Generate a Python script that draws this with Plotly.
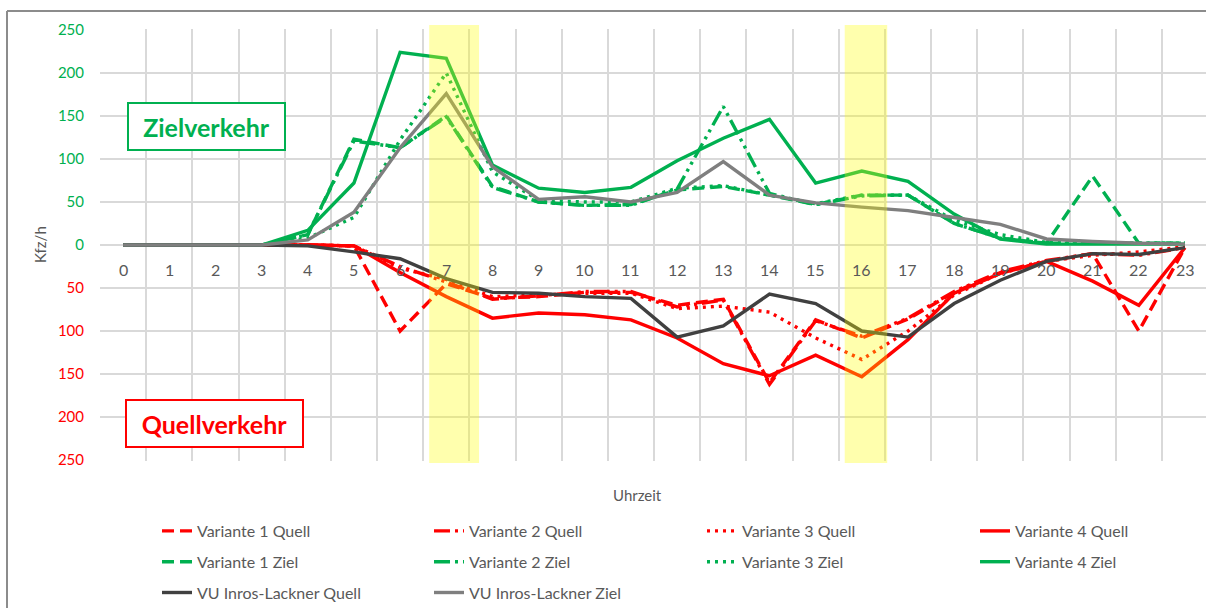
import plotly.graph_objects as go

# Hours of the day (category axis)
hours = list(range(24))
hour_labels = [str(h) for h in hours]

# Ziel (destination) traffic, Kfz/h
v1_ziel = [0, 0, 0, 0, 12, 123, 113, 150, 68, 50, 46, 47, 64, 68, 58, 47, 58, 58, 25, 8, 2, 80, 2, 2]
v2_ziel = [0, 0, 0, 0, 12, 121, 113, 149, 67, 50, 46, 46, 65, 161, 60, 47, 57, 58, 25, 8, 2, 2, 2, 2]
v3_ziel = [0, 0, 0, 0, 8, 32, 122, 200, 85, 52, 50, 50, 66, 69, 58, 48, 58, 58, 29, 12, 3, 2, 2, 2]
v4_ziel = [0, 0, 0, 0, 17, 72, 224, 217, 93, 66, 61, 67, 98, 124, 146, 72, 86, 74, 36, 7, 1, 1, 1, 1]
vu_ziel = [0, 0, 0, 0, 6, 38, 113, 176, 91, 53, 56, 50, 61, 97, 58, 49, 44, 40, 32, 24, 7, 4, 2, 1]

# Quell (origin) traffic, Kfz/h (drawn below the zero line)
v1_quell = [0, 0, 0, 0, 0, 1, 100, 45, 62, 60, 55, 55, 70, 63, 160, 87, 108, 86, 55, 32, 19, 10, 100, 3]
v2_quell = [0, 0, 0, 0, 0, 1, 25, 43, 63, 59, 54, 54, 72, 64, 162, 88, 106, 85, 54, 31, 18, 10, 12, 3]
v3_quell = [0, 0, 0, 0, 0, 1, 27, 40, 60, 58, 56, 56, 74, 71, 78, 108, 133, 100, 58, 33, 19, 12, 8, 2]
v4_quell = [0, 0, 0, 0, 0, 1, 32, 60, 85, 79, 81, 87, 108, 138, 152, 128, 153, 110, 56, 33, 19, 42, 70, 3]
vu_quell = [0, 0, 0, 0, 1, 8, 16, 39, 55, 56, 60, 62, 107, 94, 57, 68, 100, 107, 68, 41, 19, 10, 11, 3]

# Peak hours highlighted
peak_hours = [7, 16]

# y ticks: magnitudes, green above zero, red below
y_ticks = [-250, -200, -150, -100, -50, 0, 50, 100, 150, 200, 250]

RED = "#ff0000"
GREEN = "#00b050"
DARK = "#404040"
GREY = "#7f7f7f"
TXT = "#595959"
FONT = "Lato"

DASH = "12px,6px"
LONGDASHDOTDOT = "16px,5px,3px,5px,3px,5px"
DOT = "3px,5px"

series = [
    ("Variante 1 Quell", v1_quell, -1, RED, DASH, "legend"),
    ("Variante 2 Quell", v2_quell, -1, RED, LONGDASHDOTDOT, "legend2"),
    ("Variante 3 Quell", v3_quell, -1, RED, DOT, "legend3"),
    ("Variante 4 Quell", v4_quell, -1, RED, "solid", "legend4"),
    ("Variante 1 Ziel", v1_ziel, 1, GREEN, DASH, "legend"),
    ("Variante 2 Ziel", v2_ziel, 1, GREEN, LONGDASHDOTDOT, "legend2"),
    ("Variante 3 Ziel", v3_ziel, 1, GREEN, DOT, "legend3"),
    ("Variante 4 Ziel", v4_ziel, 1, GREEN, "solid", "legend4"),
    ("VU Inros-Lackner Quell", vu_quell, -1, DARK, "solid", "legend"),
    ("VU Inros-Lackner Ziel", vu_ziel, 1, GREY, "solid", "legend2"),
]

fig = go.Figure()
for name, vals, sign, color, dash, leg in series:
    fig.add_trace(go.Scatter(
        x=hours, y=[sign * v for v in vals], name=name, mode="lines",
        line=dict(color=color, width=3.4, dash=dash),
        legend=leg, legendgroup=name,
    ))

# Plot-area geometry in pixels
W, H = 1206, 608
L, R, T, B = 100, 0, 29, 147
pw = W - L - R
ph = H - T - B
cat_w = 46.17
x_max = (pw / cat_w) - 0.5


def px_x(p):
    return (p - L) / pw


def px_y(p):
    return (H - B - p) / ph


# Highlight bands for the peak hours
for h in peak_hours:
    fig.add_shape(type="rect", xref="x", yref="paper",
                  x0=h - 0.37, x1=h + 0.71 - (0.16 if h == 16 else 0.0),
                  y0=px_y(463), y1=px_y(25),
                  fillcolor="rgba(255,255,0,0.32)", line_width=0, layer="above")

# Outer frame (left and top edges visible)
fig.add_shape(type="line", xref="paper", yref="paper",
              x0=px_x(7), x1=px_x(7), y0=px_y(11), y1=px_y(620),
              line=dict(color="#8c8c8c", width=2))
fig.add_shape(type="line", xref="paper", yref="paper",
              x0=px_x(7), x1=px_x(1220), y0=px_y(11), y1=px_y(11),
              line=dict(color="#8c8c8c", width=2))

# Hour labels sitting just under the zero line
for h, lab in zip(hours, hour_labels):
    fig.add_annotation(x=h, y=0, yshift=-24, text=lab, showarrow=False,
                       font=dict(family=FONT, size=16, color=TXT),
                       xanchor="center", yanchor="middle")

# Axis titles
fig.add_annotation(xref="paper", yref="paper", x=px_x(40), y=px_y(245),
                   text="Kfz/h", textangle=-90, showarrow=False,
                   xanchor="center", yanchor="middle",
                   font=dict(family=FONT, size=15, color=TXT))
fig.add_annotation(xref="paper", yref="paper", x=px_x(637), y=px_y(495),
                   text="Uhrzeit", showarrow=False,
                   xanchor="center", yanchor="middle",
                   font=dict(family=FONT, size=15, color=TXT))

# Boxed captions
fig.add_annotation(xref="paper", yref="paper", x=px_x(206.5), y=px_y(126.5),
                   text="<b>Zielverkehr</b>", showarrow=False,
                   width=153, height=43, borderpad=1,
                   bordercolor=GREEN, borderwidth=2, bgcolor="white",
                   font=dict(family=FONT, size=25, color=GREEN),
                   xanchor="center", yanchor="middle")
fig.add_annotation(xref="paper", yref="paper", x=px_x(214.5), y=px_y(423.5),
                   text="<b>Quellverkehr</b>", showarrow=False,
                   width=173, height=43, borderpad=1,
                   bordercolor=RED, borderwidth=2, bgcolor="white",
                   font=dict(family=FONT, size=25, color=RED),
                   xanchor="center", yanchor="middle")

y_text = []
for v in y_ticks:
    c = RED if v < 0 else GREEN
    y_text.append(f'<span style="color:{c}">{abs(v)}</span>')

grid = "#d9d9d9"
fig.update_xaxes(range=[-0.5, x_max], tickvals=[i - 0.5 for i in range(25)],
                 showticklabels=False, showgrid=True, gridcolor=grid, gridwidth=2,
                 zeroline=False, showline=False, ticks="")
fig.update_yaxes(range=[-251, 251], tickvals=y_ticks, ticktext=y_text,
                 showgrid=True, gridcolor=grid, gridwidth=2, zeroline=False,
                 showline=False, ticks="", ticklabelstandoff=15,
                 tickfont=dict(family=FONT, size=15))

leg_common = dict(orientation="v", yanchor="top", xanchor="left",
                  font=dict(family=FONT, size=16, color=TXT),
                  bgcolor="rgba(0,0,0,0)", tracegroupgap=7,
                  traceorder="grouped", itemclick=False)
text_x = [197, 469, 742, 1015]
leg_names = ["legend", "legend2", "legend3", "legend4"]
legend_layout = {}
for nm, tx in zip(leg_names, text_x):
    legend_layout[nm] = dict(leg_common, x=px_x(tx - 40), y=px_y(514))

fig.update_layout(
    width=W, height=H,
    margin=dict(l=L, r=R, t=T, b=B, autoexpand=False),
    paper_bgcolor="white", plot_bgcolor="white",
    showlegend=True,
    **legend_layout,
)

fig.write_html("out.html")
